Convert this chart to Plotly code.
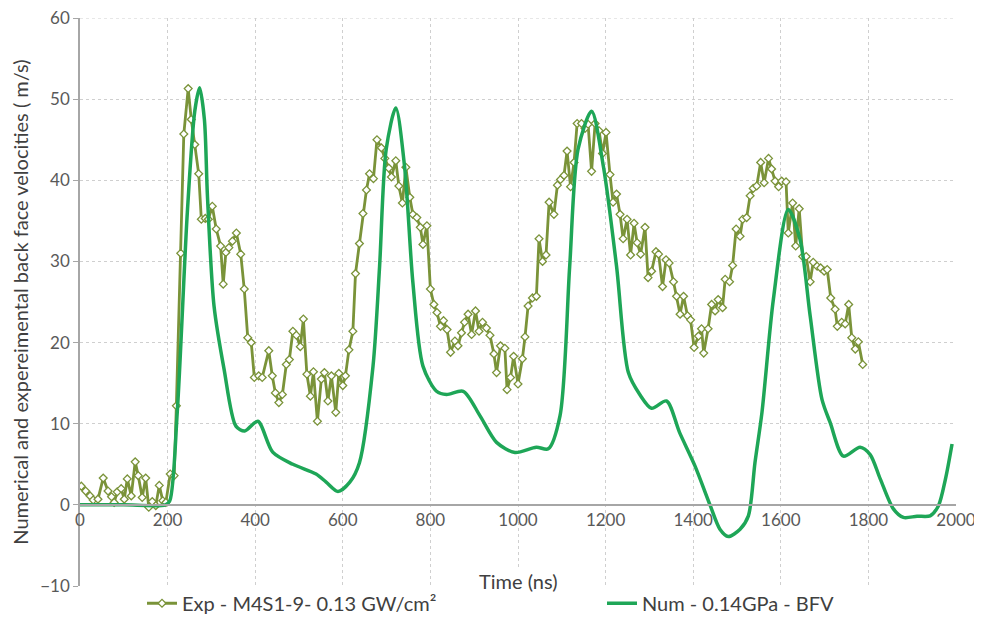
import plotly.graph_objects as go

exp_time = [3, 13, 23, 30, 41, 53, 64, 72, 78, 85, 94, 101, 108, 117, 126, 133, 142, 150, 157, 165,
            173, 181, 189, 196, 206, 215, 220, 230, 237, 247, 254, 262, 271, 277, 286, 293, 302, 311,
            321, 327, 333, 340, 348, 357, 367, 375, 383, 391, 398, 408, 416, 431, 439, 446, 454, 462,
            471, 478, 486, 494, 503, 510, 518, 526, 533, 542, 551, 558, 566, 574, 584, 591, 600, 606,
            614, 623, 629, 638, 646, 654, 661, 670, 678, 688, 696, 705, 711, 721, 728, 736, 744, 753,
            760, 769, 777, 783, 792, 800, 808, 815, 823, 830, 838, 846, 856, 863, 871, 878, 886, 894,
            903, 911, 919, 928, 936, 945, 951, 960, 970, 975, 983, 990, 1000, 1010, 1016, 1023, 1033,
            1042, 1048, 1056, 1064, 1071, 1082, 1090, 1097, 1105, 1112, 1120, 1128, 1135, 1145, 1153,
            1160, 1168, 1176, 1185, 1193, 1201, 1210, 1217, 1225, 1233, 1240, 1249, 1257, 1265, 1272,
            1280, 1290, 1297, 1305, 1315, 1321, 1330, 1338, 1345, 1355, 1362, 1370, 1378, 1387, 1394,
            1402, 1412, 1419, 1424, 1434, 1442, 1450, 1457, 1467, 1473, 1483, 1490, 1498, 1507, 1513,
            1522, 1530, 1537, 1545, 1554, 1562, 1572, 1579, 1587, 1595, 1602, 1612, 1617, 1627, 1634,
            1642, 1650, 1658, 1667, 1674, 1683, 1691, 1699, 1706, 1714, 1724, 1729, 1739, 1747, 1755,
            1762, 1770, 1777, 1787]
exp_vel = [2.3, 1.7, 1.1, 0.6, 0.7, 3.3, 1.7, 1.0, 0.3, 1.6, 2.0, 0.7, 3.2, 1.1, 5.3, 3.6, 0.9, 3.3, -0.3, 0.4,
           -0.1, 2.4, 0.5, 0.3, 3.8, 3.6, 12.2, 31.0, 45.7, 51.3, 47.5, 44.4, 40.8, 35.2, 35.3, 35.2, 36.8, 34.0,
           31.9, 27.2, 31.1, 31.7, 32.5, 33.5, 30.9, 26.6, 20.6, 20.0, 15.7, 15.9, 15.7, 19.0, 15.9, 13.8, 12.6, 13.6,
           17.3, 17.9, 21.4, 20.9, 19.5, 22.9, 16.1, 13.4, 16.4, 10.3, 15.5, 16.3, 12.8, 15.9, 11.4, 16.2, 14.7, 15.9,
           19.1, 21.4, 28.5, 32.2, 35.9, 38.8, 40.8, 40.2, 45.0, 44.0, 42.7, 41.5, 40.4, 42.4, 39.3, 37.2, 41.6, 37.9,
           35.8, 35.4, 34.2, 32.1, 34.4, 26.6, 24.7, 23.7, 22.0, 22.7, 21.6, 18.8, 20.2, 19.6, 21.2, 22.5, 23.5, 21.0,
           23.9, 21.4, 22.5, 21.8, 20.9, 18.6, 16.3, 19.6, 19.3, 14.2, 15.7, 18.3, 14.9, 18.0, 20.7, 24.5, 25.5,
           25.7, 32.8, 30.0, 30.8, 37.3, 35.8, 39.4, 40.1, 40.6, 43.6, 39.2, 42.2, 47.0, 47.0, 46.4,
           46.9, 41.1, 47.0, 46.1, 43.3, 45.9, 40.7, 37.3, 38.3, 35.8, 32.8, 35.2, 30.8, 34.7, 32.3,
           30.9, 34.2, 28.0, 28.8, 31.2, 30.9, 26.9, 30.2, 29.8, 27.5, 25.7, 23.5, 25.7, 23.3, 22.8,
           19.4, 20.8, 21.7, 18.7, 21.7, 24.7, 23.9, 25.3, 24.3, 27.8, 27.5, 29.5, 34.0, 33.1, 35.2,
           35.4, 38.1, 39.0, 39.3, 42.2, 39.7, 42.7, 41.4, 39.9, 39.2, 39.9, 39.8, 33.5, 37.2, 31.9,
           36.5, 30.6, 30.6, 27.5, 29.9, 29.4, 29.2, 28.8, 29.0, 25.5, 24.1, 22.0, 22.5, 22.3, 24.7,
           20.6, 19.2, 20.1, 17.3]

# Numerical back face velocity
num_time = [0, 100, 195, 205, 222, 245, 262, 273, 284, 291, 306, 329, 356, 376, 406, 440, 486, 539, 562,
            589, 616, 638, 669, 684, 699, 721, 741, 760, 783, 814, 837, 875, 913, 951, 993, 1042,
            1069, 1096, 1118, 1137, 1168, 1195, 1225, 1252, 1278, 1305, 1339, 1369, 1404, 1439, 1461,
            1480, 1507, 1526, 1541, 1557, 1583, 1617, 1644, 1667, 1694, 1713, 1743, 1781, 1804, 1827,
            1857, 1880, 1911, 1941, 1960, 1976, 1991]
num_vel = [0, 0, 0, 0.5, 11.4, 36.0, 48.5, 51.4, 47.5, 38.0, 24.5, 16.7, 9.7, 9.1, 10.3, 6.5, 5.0, 3.8, 2.8,
           1.65, 2.8, 5.2, 17.1, 29.4, 43.8, 48.9, 41.7, 27.4, 17.1, 14.0, 13.6, 14.0, 11.0, 7.7, 6.45, 7.1,
           6.9, 11.0, 29.4, 43.8, 48.5, 41.7, 29.4, 16.3, 13.6, 11.9, 12.8, 8.9, 4.8, -0.1, -3.0,
           -3.9, -3.0, -1.35, 5.2, 11.4, 25.3, 36.4, 32.7, 23.3, 13.0, 10.1, 6.0, 7.1, 6.2, 3.2,
           -0.5, -1.55, -1.4, -1.35, -0.1, 3.2, 7.5]

x_ticks = list(range(0, 2001, 200))
y_ticks = list(range(-10, 61, 10))

font = "Lato, 'Open Sans', sans-serif"
grey = "#595959"
grid = "#cfcfcf"

fig = go.Figure()

fig.add_trace(go.Scatter(
    x=exp_time, y=exp_vel,
    mode="lines+markers",
    name="Exp - M4S1-9- 0.13 GW/cm²",
    line=dict(color="#7a9339", width=2.8),
    marker=dict(symbol="diamond", size=6, color="white",
                line=dict(color="#7a9339", width=1.3)),
    legend="legend",
))
fig.add_trace(go.Scatter(
    x=num_time, y=num_vel,
    mode="lines",
    name="Num - 0.14GPa - BFV",
    line=dict(color="#1ea657", width=3.5, shape="spline", smoothing=0.8),
    legend="legend2",
))

# the page puts the figure 8px in from the top-left corner
W, H = 974, 632
legend_style = dict(orientation="h", xref="container", yref="container",
                    yanchor="top", xanchor="left", y=0.089,
                    font=dict(size=20, color="#404040"), bgcolor="rgba(0,0,0,0)")

fig.update_layout(
    width=W, height=H,
    margin=dict(l=72, r=26, t=10, b=54, autoexpand=False),
    paper_bgcolor="white", plot_bgcolor="white",
    font=dict(family=font, size=17, color=grey),
    showlegend=True,
    legend=dict(legend_style, x=134 / W),
    legend2=dict(legend_style, x=594 / W),
    xaxis=dict(
        range=[0, 2000], tickvals=x_ticks,
        showgrid=True, gridcolor=grid, griddash="dot", gridwidth=1,
        anchor="free", position=10 / 70,
        showline=True, linecolor="#a6a6a6", linewidth=1.5,
        ticks="", zeroline=False, automargin=False,
        ticklabeloverflow="allow",
        tickfont=dict(size=17, color=grey),
    ),
    yaxis=dict(
        range=[-10, 60], tickvals=y_ticks,
        showgrid=True, gridcolor=grid, griddash="dot", gridwidth=1,
        showline=True, linecolor="#a6a6a6", linewidth=1.5,
        ticks="outside", ticklen=5, tickcolor="#a6a6a6",
        zeroline=False, automargin=False,
        ticklabeloverflow="allow",
        tickfont=dict(size=17, color=grey),
        title=dict(text="Numerical and expereimental back face velocities ( m/s)",
                   font=dict(size=20, color="#404040"), standoff=6),
    ),
)

# top gridline at 60 is not drawn by plotly at the range edge
fig.add_hline(y=60, line=dict(color=grid, width=1, dash="dot"), layer="below")

fig.add_annotation(
    x=0.5, y=0, xref="paper", yref="paper", xanchor="center", yanchor="middle",
    yshift=5, text="Time (ns)", showarrow=False, bgcolor="white",
    font=dict(size=20, color="#404040"),
)

fig.write_html("out.html")
